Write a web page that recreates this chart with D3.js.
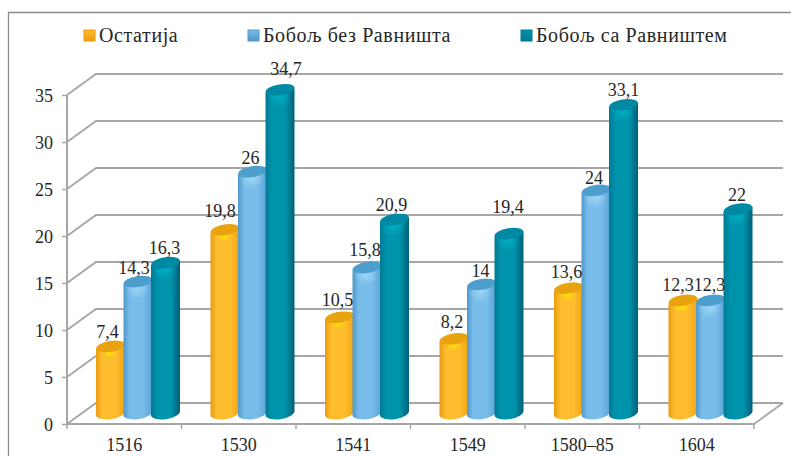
<!DOCTYPE html>
<html>
<head>
<meta charset="utf-8">
<script src="https://cdn.jsdelivr.net/npm/d3@7"></script>
<style>
body { margin: 0; background: #fff; }
svg { display: block; }
text { font-family: "Liberation Serif", serif; fill: #262626; }
</style>
</head>
<body>
<div id="chart"></div>
<script>
var categories = ['1516', '1530', '1541', '1549', '1580–85', '1604'];
var series_names = ['Остатија', 'Бобољ без Равништа', 'Бобољ са Равништем'];
var ostatija = [7.4, 19.8, 10.5, 8.2, 13.6, 12.3];
var bez_ravnista = [14.3, 26, 15.8, 14, 24, 12.3];
var sa_ravnistem = [16.3, 34.7, 20.9, 19.4, 33.1, 22];
var y_ticks = [0, 5, 10, 15, 20, 25, 30, 35];

var chart_width = 791;
var chart_height = 456;
var depth_x = 29;
var depth_y = 21;

var palette = [
    {edge: '#eb9c10', mid: '#fdbd2e', dark: '#f2a414', cap: '#e9a30f', glow: '#ffe600'},
    {edge: '#5098cb', mid: '#78bdea', dark: '#5ba3d6', cap: '#4c9ecd', glow: '#a6d8f6'},
    {edge: '#007a94', mid: '#0093ac', dark: '#005f78', cap: '#0089a3', glow: '#00b2c8'}
];

// the labels were placed by hand in the original, these are the ones that stray
var label_nudge = {
    '0-0': [-1, 4], '1-0': [-2, 4], '2-0': [1, 3],
    '0-1': [-3, -1], '1-1': [0, 4], '2-1': [8, -3],
    '0-2': [0, 1], '1-2': [0, 1], '2-2': [-1, 3],
    '0-3': [0, 1], '1-3': [1, 5], '2-3': [1, -9],
    '0-4': [0, 2], '1-4': [0, 6], '2-4': [2, 3],
    '0-5': [-3, 3], '1-5': [1, 3], '2-5': [1, 4]
};

var svg = d3.select('#chart')
    .append('svg')
    .attr('width', chart_width)
    .attr('height', chart_height);

var x_scale = d3.scaleBand()
    .domain(categories)
    .range([67, 754]);

var y_scale = d3.scaleLinear()
    .domain([0, 35])
    .range([424, 95]);

var x_inner = d3.scaleBand()
    .domain(d3.range(3))
    .range([29, 111.5]);

// Gradients
var defs = svg.append('defs');
palette.forEach(function(p, i){
    var grad = defs.append('linearGradient').attr('id', 'body' + i);
    grad.append('stop').attr('offset', '0%').attr('stop-color', p.edge);
    grad.append('stop').attr('offset', '22%').attr('stop-color', p.mid);
    grad.append('stop').attr('offset', '68%').attr('stop-color', p.mid);
    grad.append('stop').attr('offset', '100%').attr('stop-color', p.dark);

    var glow = defs.append('radialGradient').attr('id', 'glow' + i);
    glow.append('stop').attr('offset', '0%').attr('stop-color', p.glow).attr('stop-opacity', 0.9);
    glow.append('stop').attr('offset', '100%').attr('stop-color', p.glow).attr('stop-opacity', 0);

    var swatch = defs.append('linearGradient').attr('id', 'swatch' + i)
        .attr('x1', 0).attr('y1', 0).attr('x2', 0).attr('y2', 1);
    swatch.append('stop').attr('offset', '0%').attr('stop-color', p.mid);
    swatch.append('stop').attr('offset', '100%').attr('stop-color', p.edge);
});

// Frame
svg.append('path')
    .attr('d', 'M8.5,456V12.5H791')
    .attr('fill', 'none')
    .attr('stroke', '#8c8c8c')
    .attr('stroke-width', 1.3);

// Walls
var grid_color = '#a6a6a6';
var grid = svg.append('g');
y_ticks.forEach(function(t){
    var y = y_scale(t);
    grid.append('path')
        .attr('d', 'M67,' + y + 'L' + (67 + depth_x) + ',' + (y - depth_y) + 'H' + (754 + depth_x))
        .attr('fill', 'none')
        .attr('stroke', grid_color)
        .attr('stroke-width', 1.8);
});
grid.append('line')
    .attr('x1', 754).attr('y1', y_scale(0))
    .attr('x2', 754 + depth_x).attr('y2', y_scale(0) - depth_y)
    .attr('stroke', grid_color)
    .attr('stroke-width', 1.8);

// Create Axes
var x_axis = d3.axisBottom(x_scale).tickSize(0).tickPadding(14);
var y_axis = d3.axisLeft(y_scale).tickValues(y_ticks).tickSize(5).tickPadding(9);

var x_g = svg.append('g')
    .attr('transform', 'translate(0,' + y_scale(0) + ')')
    .call(x_axis);
x_g.selectAll('line').remove();
x_g.select('.domain').attr('d', 'M67,0H754').attr('stroke', grid_color).attr('stroke-width', 2);
x_g.selectAll('.edge')
    .data(d3.range(categories.length + 1))
    .enter()
    .append('line')
    .attr('x1', function(d){ return 67 + d * x_scale.step(); })
    .attr('x2', function(d){ return 67 + d * x_scale.step(); })
    .attr('y1', 0)
    .attr('y2', 5)
    .attr('stroke', grid_color)
    .attr('stroke-width', 1.5);
x_g.selectAll('text')
    .attr('font-size', 18)
    .attr('font-family', '"Liberation Serif", serif')
    .attr('fill', '#262626');

var y_g = svg.append('g')
    .attr('transform', 'translate(67,0)')
    .call(y_axis);
y_g.select('.domain').attr('d', 'M0,' + y_scale(0) + 'V' + y_scale(35)).attr('stroke', grid_color).attr('stroke-width', 2);
y_g.selectAll('line').attr('stroke', grid_color).attr('stroke-width', 1.5);
y_g.selectAll('text')
    .attr('font-size', 18)
    .attr('dy', '0.38em')
    .attr('font-family', '"Liberation Serif", serif')
    .attr('fill', '#262626');

// Cylinders stand in the middle of the floor depth
var base_drop = 11;
var top_drop = 8;
var tilt = 2.5;
var bar_width = 29;

function bodyPath(x, top, base) {
    var r = bar_width / 2;
    return 'M' + x + ',' + (top + tilt)
        + 'L' + x + ',' + (base + tilt)
        + 'A' + r + ',6 -9 0 0 ' + (x + bar_width) + ',' + (base - tilt)
        + 'L' + (x + bar_width) + ',' + (top - tilt)
        + 'Z';
}

[ostatija, bez_ravnista, sa_ravnistem].forEach(function(values, s){
    var g = svg.append('g');
    var base = y_scale(0) - base_drop;

    function top_y(d) {
        return y_scale(d) - top_drop;
    }
    function left_x(d, i) {
        return x_scale(categories[i]) + x_inner(s);
    }

    g.selectAll('.body')
        .data(values)
        .enter()
        .append('path')
        .attr('d', function(d, i){ return bodyPath(left_x(d, i), top_y(d), base); })
        .attr('fill', 'url(#body' + s + ')');

    g.selectAll('.glow')
        .data(values)
        .enter()
        .append('ellipse')
        .attr('cx', function(d, i){ return left_x(d, i) + bar_width / 2 - 1; })
        .attr('cy', function(d){ return top_y(d) + 6; })
        .attr('rx', s === 0 ? 8 : 12)
        .attr('ry', s === 0 ? 6 : 12)
        .attr('fill', 'url(#glow' + s + ')');

    g.selectAll('.cap')
        .data(values)
        .enter()
        .append('ellipse')
        .attr('rx', bar_width / 2)
        .attr('ry', 5.5)
        .attr('transform', function(d, i){
            return 'translate(' + (left_x(d, i) + bar_width / 2) + ',' + top_y(d) + ') rotate(-9)';
        })
        .attr('fill', palette[s].cap);
});

// Data labels go on top of every bar
[ostatija, bez_ravnista, sa_ravnistem].forEach(function(values, s){
    function nudge(i) {
        return label_nudge[s + '-' + i] || [0, 0];
    }
    svg.append('g').selectAll('text')
        .data(values)
        .enter()
        .append('text')
        .attr('x', function(d, i){ return x_scale(categories[i]) + x_inner(s) + bar_width / 2 - 2 + nudge(i)[0]; })
        .attr('y', function(d, i){ return y_scale(d) - 20 + nudge(i)[1]; })
        .attr('text-anchor', 'middle')
        .attr('font-size', 18)
        .text(function(d){ return String(d).replace('.', ','); });
});

// Legend
var legend_x = [84, 248, 521];
var legend = svg.append('g').selectAll('g')
    .data(series_names)
    .enter()
    .append('g')
    .attr('transform', function(d, i){ return 'translate(' + legend_x[i] + ',30)'; });

legend.append('rect')
    .attr('width', 11)
    .attr('height', 11)
    .attr('fill', function(d, i){ return 'url(#swatch' + i + ')'; })
    .attr('stroke', function(d, i){ return palette[i].edge; })
    .attr('stroke-width', 1);

legend.append('text')
    .attr('x', 15)
    .attr('y', 12)
    .attr('font-size', 20)
    .attr('letter-spacing', 0.6)
    .text(function(d){ return d; });
</script>
</body>
</html>
